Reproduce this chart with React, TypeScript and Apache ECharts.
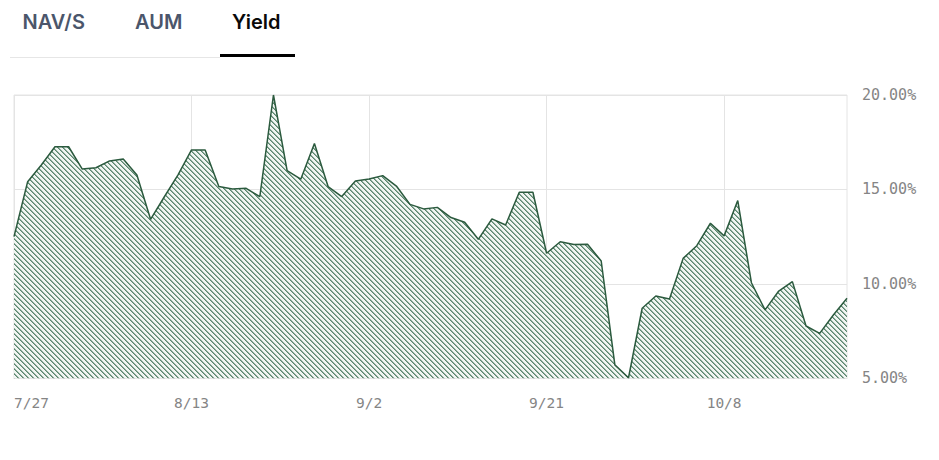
import React, { useEffect, useRef } from "react";
import * as echarts from "echarts";

const dates = [
  "7/27", "7/28", "7/29", "7/30", "7/31", "8/3", "8/4", "8/5", "8/6", "8/7",
  "8/10", "8/11", "8/12", "8/13", "8/14", "8/17", "8/18", "8/19", "8/20", "8/21",
  "8/25", "8/26", "8/27", "8/28", "8/31", "9/1", "9/2", "9/3", "9/4", "9/7",
  "9/8", "9/9", "9/10", "9/11", "9/14", "9/15", "9/16", "9/17", "9/18", "9/21",
  "9/22", "9/23", "9/24", "9/25", "9/28", "9/29", "9/30", "10/1", "10/2", "10/5",
  "10/6", "10/7", "10/8", "10/9", "10/12", "10/13", "10/14", "10/15", "10/16", "10/19",
  "10/20", "10/21",
];

const yieldValues = [
  12.5, 15.41, 16.29, 17.26, 17.26, 16.08, 16.15, 16.51, 16.61, 15.76,
  13.42, 14.6, 15.76, 17.09, 17.09, 15.15, 15.02, 15.06, 14.62, 20.0,
  15.99, 15.54, 17.43, 15.15, 14.62, 15.45, 15.55, 15.73, 15.18, 14.21,
  13.97, 14.05, 13.51, 13.26, 12.36, 13.44, 13.12, 14.85, 14.85, 11.62,
  12.23, 12.08, 12.1, 11.21, 5.71, 5.03, 8.71, 9.36, 9.2, 11.35,
  12.02, 13.21, 12.54, 14.41, 10.06, 8.62, 9.62, 10.12, 7.77, 7.38,
  8.35, 9.24,
];

const tabs = ["NAV/S", "AUM", "Yield"];
const tabX = [22.5, 135, 232];
const yTicks = { min: 5, max: 20, interval: 5 };

function makePattern(): HTMLCanvasElement {
  const s = 5;
  const c = document.createElement("canvas");
  c.width = s;
  c.height = s;
  const ctx = c.getContext("2d")!;
  ctx.fillStyle = "#f1f5f2";
  ctx.fillRect(0, 0, s, s);
  for (let x = 0; x < s; x++) {
    for (let y = 0; y < s; y++) {
      const d = (((x - y) % s) + s) % s;
      if (d === 0) {
        ctx.fillStyle = "#5b8770";
        ctx.fillRect(x, y, 1, 1);
      } else if (d === 1) {
        ctx.fillStyle = "#8fae9d";
        ctx.fillRect(x, y, 1, 1);
      }
    }
  }
  return c;
}

export default function App() {
  const ref = useRef<HTMLDivElement>(null);

  useEffect(() => {
    if (!ref.current) return;
    const chart = echarts.init(ref.current, undefined, { renderer: "svg" });
    const pattern = makePattern();
    chart.setOption({
      animation: false,
      grid: {
        left: 14,
        right: 92,
        top: 95,
        bottom: 81.7,
        show: true,
        borderColor: "#e4e4e4",
        borderWidth: 1,
        backgroundColor: "transparent",
      },
      xAxis: {
        type: "category",
        data: dates,
        boundaryGap: false,
        axisLine: { show: true, lineStyle: { color: "#e4e4e4" } },
        axisTick: { show: false, interval: 12 },
        axisLabel: {
          interval: 12,
          margin: 17,
          color: "#858585",
          fontFamily: "DejaVu Sans Mono",
          fontSize: 14.5,
          alignMinLabel: "left",
        },
        splitLine: {
          show: true,
          interval: 12,
          lineStyle: { color: "#e4e4e4", width: 1 },
        },
      },
      yAxis: {
        type: "value",
        position: "right",
        min: yTicks.min,
        max: yTicks.max,
        interval: yTicks.interval,
        axisLine: { show: false },
        axisTick: { show: false },
        axisLabel: {
          margin: 15,
          color: "#858585",
          fontFamily: "DejaVu Sans Mono",
          fontSize: 15,
          formatter: (v: number) => v.toFixed(2) + "%",
        },
        splitLine: { show: true, lineStyle: { color: "#e4e4e4", width: 1 } },
      },
      series: [
        {
          type: "line",
          data: yieldValues,
          showSymbol: false,
          symbol: "none",
          lineStyle: { color: "#2b5a3e", width: 1.5 },
          areaStyle: {
            color: { image: pattern, repeat: "repeat" },
            opacity: 1,
          },
        },
      ],
    });
    return () => chart.dispose();
  }, []);

  return (
    <div
      style={{
        position: "fixed",
        left: 0,
        top: 0,
        width: 939,
        height: 460,
        background: "#ffffff",
        overflow: "hidden",
      }}
    >
      {tabs.map((t, i) => (
        <div
          key={t}
          style={{
            position: "absolute",
            left: tabX[i],
            top: 10,
            height: 24,
            lineHeight: "24px",
            fontFamily: "Inter, 'Noto Sans', sans-serif",
            fontWeight: 600,
            fontSize: 20,
            color: i === 2 ? "#0a0a0a" : "#4b566b",
            whiteSpace: "nowrap",
          }}
        >
          {t}
        </div>
      ))}
      <div
        style={{
          position: "absolute",
          left: 10,
          top: 57,
          width: 210,
          height: 1,
          background: "#e6e6e6",
        }}
      />
      <div
        style={{
          position: "absolute",
          left: 220,
          top: 53.5,
          width: 75,
          height: 3,
          background: "#000000",
        }}
      />
      <div
        ref={ref}
        style={{ position: "absolute", left: 0, top: 0, width: 939, height: 460 }}
      />
    </div>
  );
}
